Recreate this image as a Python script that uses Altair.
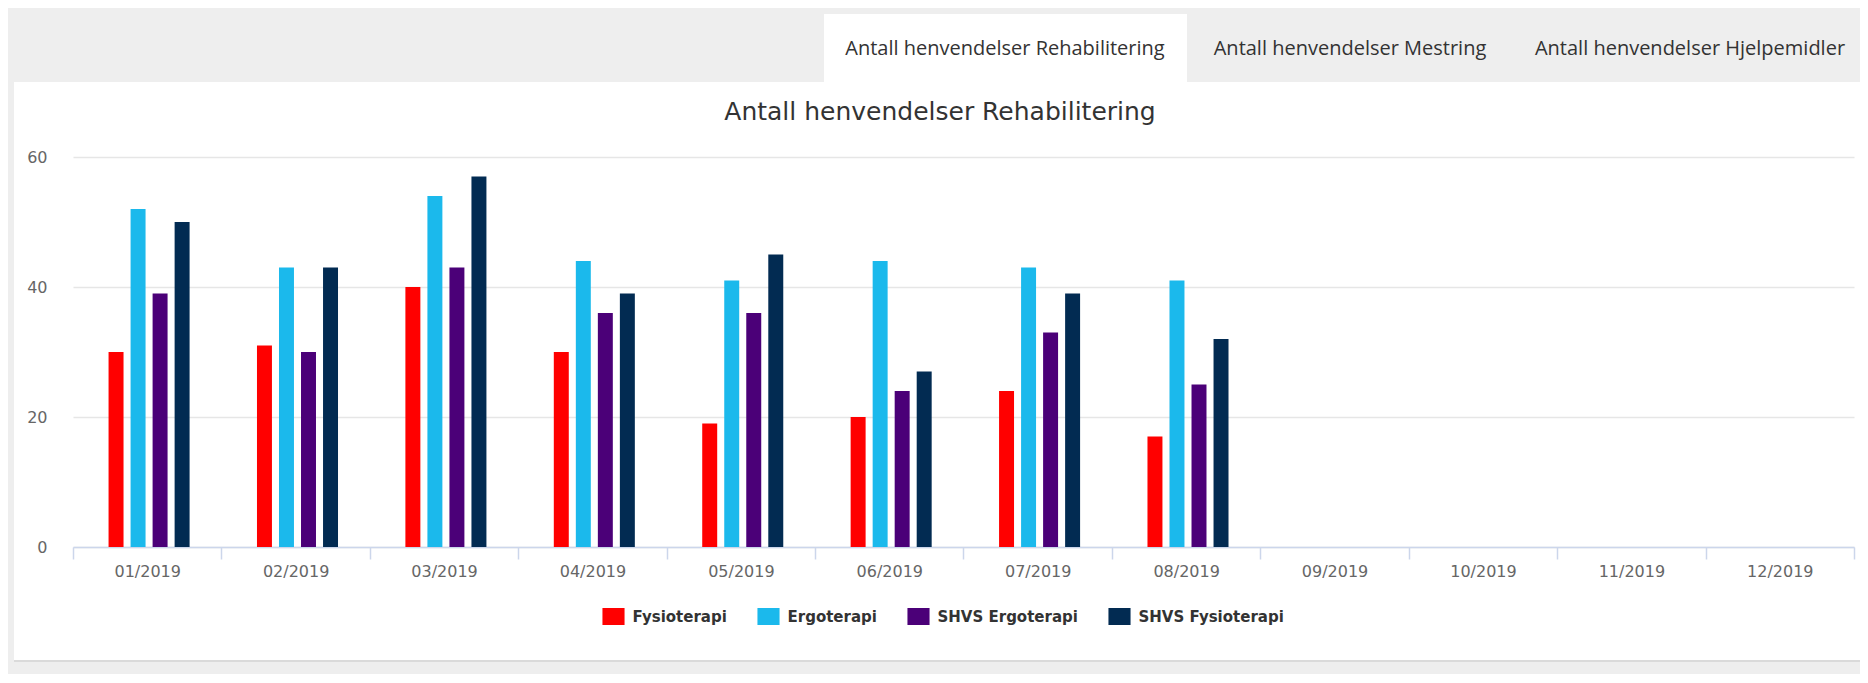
import altair as alt
import pandas as pd

months = ["01/2019", "02/2019", "03/2019", "04/2019", "05/2019", "06/2019",
          "07/2019", "08/2019", "09/2019", "10/2019", "11/2019", "12/2019"]
series = ["Fysioterapi", "Ergoterapi", "SHVS Ergoterapi", "SHVS Fysioterapi"]
colors = ["#FF0000", "#1BB9EC", "#4B0078", "#022B52"]

fysioterapi = [30, 31, 40, 30, 19, 20, 24, 17]
ergoterapi = [52, 43, 54, 44, 41, 44, 43, 41]
shvs_ergoterapi = [39, 30, 43, 36, 36, 24, 33, 25]
shvs_fysioterapi = [50, 43, 57, 39, 45, 27, 39, 32]

tabs = ["Antall henvendelser Rehabilitering", "Antall henvendelser Mestring",
        "Antall henvendelser Hjelpemidler"]
title_text = "Antall henvendelser Rehabilitering"

values_by_series = [fysioterapi, ergoterapi, shvs_ergoterapi, shvs_fysioterapi]
rows = []
for s, vals in zip(series, values_by_series):
    for m, v in zip(months, vals):
        rows.append({"month": m, "series": s, "value": v})
df = pd.DataFrame(rows)

# empty slots either side of each group of four bars (no data in them)
offset_domain = ["_gap_left"] + series + ["_gap_right"]

one = pd.DataFrame({"k": [0]})

W, H = 1781, 390
GRAY = "#EEEEEE"


def rect(x, x2, y, y2, color):
    return alt.Chart(one).mark_rect(color=color, strokeWidth=0).encode(
        x=alt.value(x), x2=alt.value(x2), y=alt.value(y), y2=alt.value(y2))


def text(label, x, y, size, font, color, weight="normal"):
    return alt.Chart(pd.DataFrame({"t": [label]})).mark_text(
        font=font, fontSize=size, color=color, fontWeight=weight,
        align="center", baseline="alphabetic").encode(
        x=alt.value(x), y=alt.value(y), text="t:N")


top_gray = rect(-70, 1800, -160, -75, GRAY)
left_gray = rect(-70, -59, -160, 530, GRAY)
shadow = rect(-59, 1800, 503, 505, "#DADADA")
bottom_gray = rect(-59, 1800, 505, 530, GRAY)
active_tab = rect(751, 1114, -143, -75, "#FFFFFF")

tab1 = text(tabs[0], 932, -102, 20, "Open Sans", "#333333")
tab2 = text(tabs[1], 1277, -102, 20, "Open Sans", "#333333")
tab3 = text(tabs[2], 1617, -102, 20, "Open Sans", "#333333")
title = text(title_text, 867, -37, 25, "DejaVu Sans", "#333333")

bars = alt.Chart(df).mark_bar().encode(
    x=alt.X("month:N", sort=months,
            scale=alt.Scale(domain=months, paddingInner=0, paddingOuter=0),
            axis=alt.Axis(title=None, labelAngle=0, tickBand="extent",
                          domainColor="#CCD6EB", domainWidth=1.5,
                          tickColor="#CCD6EB", tickSize=12, tickWidth=1.5,
                          labelPadding=4, labelFont="DejaVu Sans",
                          labelFontSize=16, labelColor="#666666", grid=False)),
    xOffset=alt.XOffset("series:N", sort=series,
                        scale=alt.Scale(domain=offset_domain, paddingInner=0.32,
                                        paddingOuter=0.53, align=0.58)),
    y=alt.Y("value:Q", scale=alt.Scale(domain=[0, 60]),
            axis=alt.Axis(title=None, values=[0, 20, 40, 60], domain=False,
                          ticks=False, labelPadding=26, gridColor="#E6E6E6",
                          gridWidth=1.5, labelFont="DejaVu Sans",
                          labelFontSize=16, labelColor="#666666")),
    color=alt.Color("series:N", sort=series,
                    scale=alt.Scale(domain=series, range=colors),
                    legend=alt.Legend(title=None, orient="none",
                                      direction="horizontal",
                                      legendX=532, legendY=451,
                                      symbolType="M-1.3,-1H1.3V1H-1.3Z",
                                      symbolSize=289, symbolStrokeWidth=0,
                                      labelOffset=10.5, columnPadding=30,
                                      labelFont="DejaVu Sans",
                                      labelFontWeight="bold",
                                      labelFontSize=15, labelColor="#333333")),
)

chart = alt.layer(top_gray, left_gray, shadow, bottom_gray, active_tab,
                  tab1, tab2, tab3, title, bars).properties(
    width=W, height=H,
    padding={"left": 65, "top": 149, "right": 6, "bottom": 127},
    autosize=alt.AutoSizeParams(type="none"),
    background="#FFFFFF",
).configure_view(stroke=None)

chart.save("out.html", embed_options={"renderer": "svg", "actions": False})
